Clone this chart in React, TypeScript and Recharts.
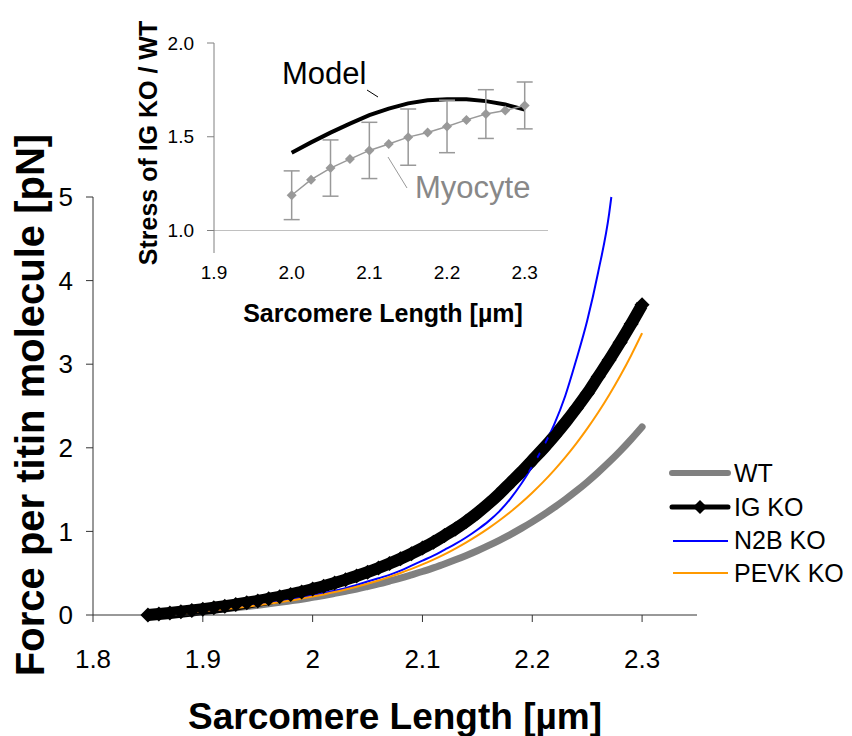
import { ErrorBar, Line, LineChart, ReferenceLine, XAxis, YAxis } from "recharts";

const FONT = '"Liberation Sans", Arial, sans-serif';

// main chart: force per titin molecule vs sarcomere length
const lengths = [
  1.85, 1.86, 1.87, 1.88, 1.89, 1.9, 1.91, 1.92, 1.93, 1.94, 1.95, 1.96, 1.97, 1.98, 1.99, 2.0,
  2.01, 2.02, 2.03, 2.04, 2.05, 2.06, 2.07, 2.08, 2.09, 2.1, 2.11, 2.12, 2.13, 2.14, 2.15, 2.16,
  2.17, 2.18, 2.19, 2.2, 2.21, 2.22, 2.23, 2.24, 2.25, 2.26, 2.27, 2.28, 2.29, 2.3,
];
const wt = [
  0, 0.009, 0.018, 0.028, 0.038, 0.049, 0.061, 0.074, 0.087, 0.101, 0.117, 0.133, 0.151, 0.17, 0.189, 0.211,
  0.233, 0.258, 0.284, 0.311, 0.341, 0.372, 0.406, 0.441, 0.48, 0.52, 0.564, 0.61, 0.66, 0.713, 0.769, 0.83,
  0.894, 0.962, 1.036, 1.114, 1.197, 1.286, 1.381, 1.482, 1.59, 1.706, 1.829, 1.96, 2.101, 2.25,
];
const igKo = [
  0, 0.012, 0.025, 0.039, 0.054, 0.07, 0.087, 0.105, 0.125, 0.146, 0.168, 0.193, 0.218, 0.246, 0.276, 0.31,
  0.345, 0.383, 0.423, 0.466, 0.512, 0.562, 0.615, 0.672, 0.734, 0.8, 0.87, 0.95, 1.03, 1.12, 1.22, 1.33,
  1.45, 1.58, 1.71, 1.85, 1.99, 2.14, 2.3, 2.47, 2.65, 2.85, 3.05, 3.26, 3.48, 3.71,
];
const pevkKo = [
  0, 0.008, 0.016, 0.026, 0.036, 0.047, 0.058, 0.071, 0.085, 0.1, 0.116, 0.134, 0.153, 0.173, 0.196, 0.22,
  0.246, 0.274, 0.305, 0.338, 0.374, 0.413, 0.456, 0.502, 0.551, 0.605, 0.663, 0.726, 0.795, 0.869, 0.949, 1.036,
  1.13, 1.232, 1.343, 1.463, 1.592, 1.733, 1.885, 2.05, 2.229, 2.422, 2.632, 2.859, 3.105, 3.371,
];
const n2bLengths = [
  1.85, 1.86, 1.87, 1.88, 1.89, 1.9, 1.91, 1.92, 1.93, 1.94, 1.95, 1.96, 1.97, 1.98, 1.99, 2.0,
  2.01, 2.02, 2.03, 2.04, 2.05, 2.06, 2.07, 2.08, 2.09, 2.1, 2.11, 2.12, 2.13, 2.14, 2.15, 2.16,
  2.17, 2.18, 2.19, 2.2, 2.21, 2.22, 2.23, 2.24, 2.25, 2.26, 2.27, 2.272,
];
const n2bKo = [
  0, 0.01, 0.02, 0.03, 0.04, 0.05, 0.06, 0.075, 0.09, 0.105, 0.12, 0.14, 0.16, 0.18, 0.205, 0.23,
  0.26, 0.29, 0.32, 0.36, 0.4, 0.44, 0.48, 0.53, 0.59, 0.65, 0.71, 0.78, 0.85, 0.93, 1.02, 1.12,
  1.24, 1.39, 1.57, 1.78, 2.01, 2.28, 2.62, 3.05, 3.52, 4.1, 4.8, 5.0,
];
const forceTicks = [0, 1, 2, 3, 4, 5];
const lengthTicks = [1.8, 1.9, 2, 2.1, 2.2, 2.3];

// inset: stress ratio IG KO / WT
const insetLengths = [2.0, 2.025, 2.05, 2.075, 2.1, 2.125, 2.15, 2.175, 2.2, 2.225, 2.25, 2.275, 2.3];
const model = [1.415, 1.47, 1.522, 1.57, 1.615, 1.65, 1.678, 1.695, 1.7, 1.7, 1.69, 1.672, 1.645];
const myocyte = [1.188, 1.271, 1.333, 1.381, 1.427, 1.461, 1.498, 1.523, 1.555, 1.59, 1.621, 1.64, 1.667];
const myocyteErr = [0.13, 0, 0.15, 0, 0.15, 0, 0.15, 0, 0.14, 0, 0.13, 0, 0.125];
const stressTicks = [1.0, 1.5, 2.0];
const insetLengthTicks = [1.9, 2.0, 2.1, 2.2, 2.3];

const pts = (xs: number[], ys: number[]) => xs.map((x, i) => ({ x, y: ys[i] }));

function Diamond(props: any) {
  const { cx, cy, r, fill } = props;
  if (cx == null || cy == null) return null;
  return <path d={`M${cx},${cy - r}L${cx + r},${cy}L${cx},${cy + r}L${cx - r},${cy}Z`} fill={fill} />;
}

const tickStyle = { fill: "#000", fontSize: 26, fontFamily: FONT };
const insetTick = { fill: "#000", fontSize: 19, fontFamily: FONT };

export default function App() {
  const myoData = insetLengths.map((x, i) => ({ x, y: myocyte[i], err: myocyteErr[i] }));
  return (
    <div style={{ position: "absolute", left: 0, top: 0, width: 852, height: 736, background: "#fff", fontFamily: FONT }}>
      <LineChart width={852} height={736} margin={{ top: 197, right: 155, bottom: 61, left: 33 }}>
        <XAxis
          type="number"
          dataKey="x"
          domain={[1.8, 2.35]}
          ticks={lengthTicks}
          height={60}
          tickSize={7}
          tickMargin={28}
          stroke="#333"
          tick={tickStyle}
        />
        <YAxis
          type="number"
          dataKey="y"
          domain={[0, 5]}
          ticks={forceTicks}
          width={60}
          tickSize={7}
          tickMargin={13}
          stroke="#333"
          tick={tickStyle}
        />
        <Line data={pts(lengths, wt)} dataKey="y" type="monotone" stroke="#808080" strokeWidth={7} strokeLinecap="round" dot={false} isAnimationActive={false} />
        <Line
          data={pts(lengths, igKo)}
          dataKey="y"
          type="monotone"
          stroke="#000"
          strokeWidth={12}
          dot={(p: any) => <Diamond key={`ig-${p.index}`} cx={p.cx} cy={p.cy} r={7.5} fill="#000" />}
          isAnimationActive={false}
        />
        <Line data={pts(n2bLengths, n2bKo)} dataKey="y" type="monotone" stroke="#0000ff" strokeWidth={2} dot={false} isAnimationActive={false} />
        <Line data={pts(lengths, pevkKo)} dataKey="y" type="monotone" stroke="#ff9900" strokeWidth={2} dot={false} isAnimationActive={false} />
      </LineChart>

      <div style={{ position: "absolute", left: 0, top: 0 }}>
        <LineChart width={600} height={340} margin={{ top: 43, right: 52, bottom: 57, left: 164 }}>
          <XAxis
            type="number"
            dataKey="x"
            domain={[1.9, 2.33]}
            ticks={insetLengthTicks}
            tickFormatter={(v: number) => v.toFixed(1)}
            axisLine={false}
            tickLine={false}
            tickSize={0}
            tickMargin={13}
            height={30}
            tick={insetTick}
          />
          <YAxis
            type="number"
            dataKey="y"
            domain={[0.88, 2.0]}
            ticks={stressTicks}
            tickFormatter={(v: number) => v.toFixed(1)}
            width={50}
            tickSize={7}
            tickMargin={13}
            stroke="#808080"
            tick={insetTick}
          />
          <ReferenceLine y={1} stroke="#c0c0c0" strokeWidth={1} />
          <Line data={pts(insetLengths, model)} dataKey="y" type="linear" stroke="#000" strokeWidth={4} dot={false} isAnimationActive={false} />
          <Line
            data={myoData}
            dataKey="y"
            type="linear"
            stroke="#999"
            strokeWidth={1.5}
            dot={(p: any) => <Diamond key={`m-${p.index}`} cx={p.cx} cy={p.cy} r={5} fill="#999" />}
            isAnimationActive={false}
          >
            <ErrorBar dataKey="err" direction="y" width={8} stroke="#999" strokeWidth={1.5} />
          </Line>
        </LineChart>
      </div>

      <svg width={852} height={736} style={{ position: "absolute", left: 0, top: 0, pointerEvents: "none" }}>
        <line x1={367} y1={90} x2={378} y2={97} stroke="#000" strokeWidth={1} />
        <line x1={388} y1={157} x2={407} y2={188} stroke="#999" strokeWidth={1} />
        <text x={282} y={73} fontSize={31} fontFamily={FONT} dominantBaseline="central">Model</text>
        <text x={415} y={187} fontSize={31} fontFamily={FONT} fill="#888" dominantBaseline="central">Myocyte</text>

        <line x1={672} y1={473} x2={728} y2={473} stroke="#808080" strokeWidth={6} strokeLinecap="round" />
        <line x1={672} y1={507} x2={728} y2={507} stroke="#000" strokeWidth={5} strokeLinecap="round" />
        <path d="M700,500L707,507L700,514L693,507Z" fill="#000" />
        <line x1={673} y1={541} x2={728} y2={541} stroke="#0000ff" strokeWidth={2} />
        <line x1={673} y1={573} x2={728} y2={573} stroke="#ff9900" strokeWidth={2} />
        {["WT", "IG KO", "N2B KO", "PEVK KO"].map((t, i) => (
          <text key={t} x={734} y={[473, 507, 540, 573][i]} fontSize={25} fontFamily={FONT} dominantBaseline="central">
            {t}
          </text>
        ))}

        <text x={395} y={716} fontSize={37} fontWeight="bold" fontFamily={FONT} textAnchor="middle" dominantBaseline="central">
          Sarcomere Length [µm]
        </text>
        <text
          x={30}
          y={405}
          fontSize={40}
          fontWeight="bold"
          fontFamily={FONT}
          textAnchor="middle"
          dominantBaseline="central"
          transform="rotate(-90 30 405)"
        >
          Force per titin molecule [pN]
        </text>
        <text x={383} y={313} fontSize={25} fontWeight="bold" fontFamily={FONT} textAnchor="middle" dominantBaseline="central">
          Sarcomere Length [µm]
        </text>
        <text
          x={148}
          y={143}
          fontSize={25}
          fontWeight="bold"
          fontFamily={FONT}
          textAnchor="middle"
          dominantBaseline="central"
          transform="rotate(-90 148 143)"
        >
          Stress of IG KO / WT
        </text>
      </svg>
    </div>
  );
}
